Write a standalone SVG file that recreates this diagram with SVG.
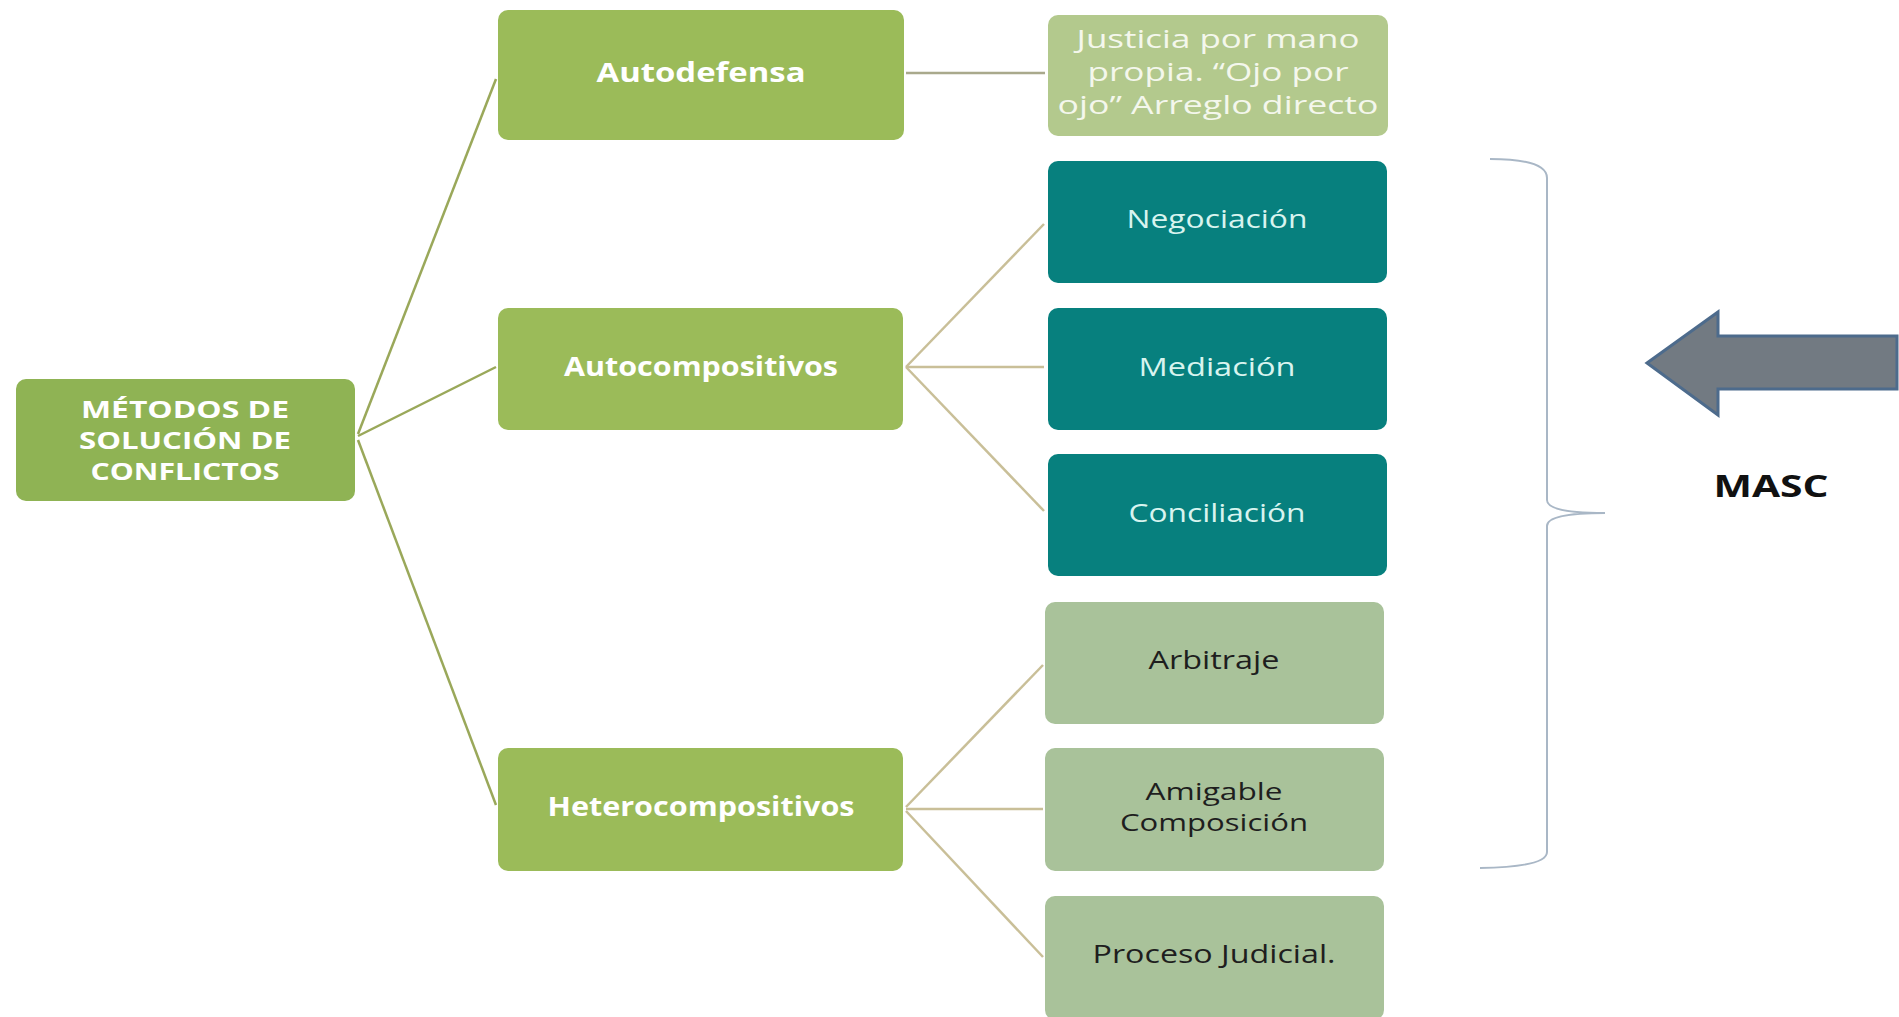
<svg xmlns="http://www.w3.org/2000/svg" width="1899" height="1017" viewBox="0 0 1899 1017">
<style>
.box{stroke:none}
.root{fill:#8FB354}
.l1{fill:#9BBB59}
.just{fill:#B3C98D}
.teal{fill:#07807E}
.sage{fill:#A9C29A}
.tb{font-family:"Open Sans","Liberation Sans",sans-serif;font-weight:bold;fill:#FFFFFF;font-size:26px;text-anchor:middle}
.tr{font-family:"Open Sans","Liberation Sans",sans-serif;font-weight:bold;fill:#FFFFFF;font-size:23px;text-anchor:middle}
.tj{font-family:"Open Sans","Liberation Sans",sans-serif;fill:#F4F7EC;font-size:25px;text-anchor:middle}
.tt{font-family:"Open Sans","Liberation Sans",sans-serif;fill:#D8F4EF;font-size:26px;text-anchor:middle}
.ts{font-family:"Open Sans","Liberation Sans",sans-serif;fill:#1E1E1E;font-size:26px;text-anchor:middle}
.ts2{font-family:"Open Sans","Liberation Sans",sans-serif;fill:#1E1E1E;font-size:23px;text-anchor:middle}
.c1{stroke:#9AA85A;stroke-width:2.5;fill:none}
.c2{stroke:#C9BF98;stroke-width:2.5;fill:none}
.c3{stroke:#A9A98C;stroke-width:2.5;fill:none}
</style>
<rect width="1899" height="1017" fill="#FFFFFF"/>
<g id="connectors">
<line class="c1" x1="358" y1="434" x2="496" y2="79"/>
<line class="c1" x1="358" y1="436" x2="496" y2="367"/>
<line class="c1" x1="358" y1="440" x2="496" y2="805"/>
<line class="c3" x1="906" y1="73" x2="1045" y2="73"/>
<line class="c2" x1="906" y1="367" x2="1044" y2="224"/>
<line class="c2" x1="906" y1="367" x2="1044" y2="367"/>
<line class="c2" x1="906" y1="367" x2="1044" y2="511"/>
<line class="c2" x1="906" y1="807" x2="1043" y2="665"/>
<line class="c2" x1="906" y1="809" x2="1043" y2="809"/>
<line class="c2" x1="906" y1="811" x2="1043" y2="957"/>
</g>
<g id="n-root"><rect class="box root" x="16" y="379" width="339" height="122" rx="10"/>
<text class="tr" x="185" y="418" textLength="208" lengthAdjust="spacingAndGlyphs">MÉTODOS DE</text>
<text class="tr" x="185" y="449" textLength="212" lengthAdjust="spacingAndGlyphs">SOLUCIÓN DE</text>
<text class="tr" x="185" y="480" textLength="189" lengthAdjust="spacingAndGlyphs">CONFLICTOS</text></g>
<g id="n-autodefensa"><rect class="box l1" x="498" y="10" width="406" height="130" rx="10"/>
<text class="tb" x="701" y="82" textLength="209" lengthAdjust="spacingAndGlyphs">Autodefensa</text></g>
<g id="n-autocompositivos"><rect class="box l1" x="498" y="308" width="405" height="122" rx="10"/>
<text class="tb" x="701" y="376" textLength="274" lengthAdjust="spacingAndGlyphs">Autocompositivos</text></g>
<g id="n-heterocompositivos"><rect class="box l1" x="498" y="748" width="405" height="123" rx="10"/>
<text class="tb" x="701" y="816" textLength="307" lengthAdjust="spacingAndGlyphs">Heterocompositivos</text></g>
<g id="n-justicia"><rect class="box just" x="1048" y="15" width="340" height="121" rx="10"/>
<text class="tj" x="1218" y="48" textLength="283" lengthAdjust="spacingAndGlyphs">Justicia por mano</text>
<text class="tj" x="1218" y="81" textLength="261" lengthAdjust="spacingAndGlyphs">propia. “Ojo por</text>
<text class="tj" x="1218" y="114" textLength="321" lengthAdjust="spacingAndGlyphs">ojo” Arreglo directo</text></g>
<g id="n-negociacion"><rect class="box teal" x="1048" y="161" width="339" height="122" rx="10"/>
<text class="tt" x="1217" y="228" textLength="181" lengthAdjust="spacingAndGlyphs">Negociación</text></g>
<g id="n-mediacion"><rect class="box teal" x="1048" y="308" width="339" height="122" rx="10"/>
<text class="tt" x="1217" y="376" textLength="157" lengthAdjust="spacingAndGlyphs">Mediación</text></g>
<g id="n-conciliacion"><rect class="box teal" x="1048" y="454" width="339" height="122" rx="10"/>
<text class="tt" x="1217" y="522" textLength="177" lengthAdjust="spacingAndGlyphs">Conciliación</text></g>
<g id="n-arbitraje"><rect class="box sage" x="1045" y="602" width="339" height="122" rx="10"/>
<text class="ts" x="1214" y="669" textLength="131" lengthAdjust="spacingAndGlyphs">Arbitraje</text></g>
<g id="n-amigable"><rect class="box sage" x="1045" y="748" width="339" height="123" rx="10"/>
<text class="ts2" x="1214" y="800" textLength="137" lengthAdjust="spacingAndGlyphs">Amigable</text>
<text class="ts2" x="1214" y="831" textLength="188" lengthAdjust="spacingAndGlyphs">Composición</text></g>
<g id="n-proceso"><rect class="box sage" x="1045" y="896" width="339" height="124" rx="10"/>
<text class="ts" x="1214" y="963" textLength="243" lengthAdjust="spacingAndGlyphs">Proceso Judicial.</text></g>
<g id="brace"><path d="M1490,159 Q1547,159 1547,178 L1547,500 Q1547,513 1605,513 Q1547,513 1547,526 L1547,852 Q1547,867 1480,868" fill="none" stroke="#A9B7C6" stroke-width="2"/></g>
<g id="arrow"><polygon points="1647,363 1718,312 1718,336 1897,336 1897,389 1718,389 1718,415" fill="#727A82" stroke="#4D6B8C" stroke-width="3" stroke-linejoin="miter"/></g>
<g id="masc"><text x="1771" y="497" font-family="Open Sans, Liberation Sans, sans-serif" font-weight="bold" font-size="30" fill="#111111" text-anchor="middle" textLength="115" lengthAdjust="spacingAndGlyphs">MASC</text></g>
</svg>
